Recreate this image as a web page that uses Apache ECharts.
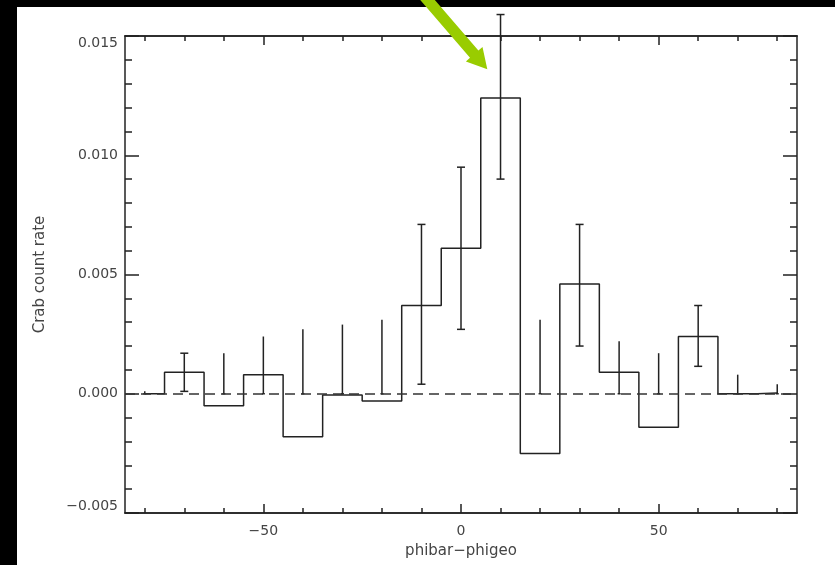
<!DOCTYPE html>
<html>
<head>
<meta charset="utf-8">
<script src="https://cdn.jsdelivr.net/npm/echarts@6/dist/echarts.min.js"></script>
<style>
  html, body { margin: 0; padding: 0; background: #000; }
  #chart { width: 835px; height: 565px; }
</style>
</head>
<body>
<div id="chart"></div>
<script>
// bin centres (phibar - phigeo) and measured rates
var binCenters = [-80, -70, -60, -50, -40, -30, -20, -10, 0, 10, 20, 30, 40, 50, 60, 70, 80];
var rateValues = [0.0000, 0.0009, -0.0005, 0.0008, -0.0018, -0.00005, -0.0003, 0.0037, 0.0061, 0.0124,
  -0.0025, 0.0046, 0.0009, -0.0014, 0.0024, 0.0000, 0.00003];
// error bar ends
var errLow = [0, 0.0001, 0, 0, 0, 0, 0, 0.0004, 0.0027, 0.0090, 0, 0.0020, 0, 0, 0.00115, 0, 0];
var errHigh = [0.0001, 0.0017, 0.0017, 0.0024, 0.0027, 0.0029, 0.0031, 0.0071, 0.0095, 0.0159,
  0.0031, 0.0071, 0.0022, 0.0017, 0.0037, 0.0008, 0.0004];
var errCapped = [0, 1, 0, 0, 0, 0, 0, 1, 1, 1, 0, 1, 0, 0, 1, 0, 0];

var xMajorTicks = [-50, 0, 50];
var xMinorTicks = [-80, -70, -60, -50, -40, -30, -20, -10, 0, 10, 20, 30, 40, 50, 60, 70, 80];

var histData = binCenters.map(function (c, i) { return [c, rateValues[i]]; });
var errData = binCenters.map(function (c, i) { return [c, errLow[i], errHigh[i], errCapped[i]]; });

var ink = '#222';
var font = 'DejaVu Sans';

function minus(s) { return s.replace('-', '\u2212'); }

function xAxisDef(pos, ticks, len, labels) {
  return {
    type: 'value', position: pos, min: -85, max: 85,
    axisLine: { show: true, onZero: false, lineStyle: { color: ink, width: 1.5 } },
    axisTick: { show: true, inside: true, length: len, customValues: ticks, lineStyle: { color: ink, width: 1.5 } },
    axisLabel: labels ? {
      show: true, customValues: ticks, margin: 11, color: '#444', fontFamily: font, fontSize: 14,
      formatter: function (v) { return minus(String(v)); }
    } : { show: false },
    splitLine: { show: false }
  };
}

function yAxisDef(pos, labels) {
  return {
    type: 'value', position: pos, min: -0.005, max: 0.015, interval: 0.005,
    axisLine: { show: true, onZero: false, lineStyle: { color: ink, width: 1.5 } },
    axisTick: { show: true, inside: true, length: 14, lineStyle: { color: ink, width: 1.5 } },
    minorTick: { show: true, splitNumber: 5, length: 7, lineStyle: { color: ink, width: 1.5 } },
    axisLabel: labels ? {
      show: true, margin: 7, color: '#444', fontFamily: font, fontSize: 14,
      verticalAlignMinLabel: 'bottom',
      verticalAlignMaxLabel: 'top',
      formatter: function (v) {
        if (Math.abs(v) < 1e-9) return '0.000';
        return minus(v.toFixed(3));
      }
    } : { show: false },
    splitLine: { show: false }
  };
}

var xBottom = xAxisDef('bottom', xMajorTicks, 9, true);
xBottom.name = 'phibar\u2212phigeo';
xBottom.nameLocation = 'middle';
xBottom.nameGap = 31;
xBottom.nameTextStyle = { color: '#444', fontFamily: font, fontSize: 15 };

var yLeft = yAxisDef('left', true);
yLeft.name = 'Crab count rate';
yLeft.nameLocation = 'middle';
yLeft.nameGap = 77;
yLeft.nameTextStyle = { color: '#444', fontFamily: font, fontSize: 15 };

// green arrow pointing at the peak (pixel polygon, annotation only)
var arrowPts = [[425.2, -11.2], [478.4, 50.6], [482.5, 47.0], [487.3, 69.3], [465.9, 61.4], [470.0, 57.8], [416.8, -4.0]];

var option = {
  backgroundColor: '#fff',
  animation: false,
  grid: { left: 125, top: 36, right: 38, bottom: 52 },
  xAxis: [
    xBottom,
    xAxisDef('bottom', xMinorTicks, 5, false),
    xAxisDef('top', xMajorTicks, 9, false),
    xAxisDef('top', xMinorTicks, 5, false)
  ],
  yAxis: [yLeft, yAxisDef('right', false)],
  graphic: [
    { type: 'rect', shape: { x: 0, y: 0, width: 835, height: 7 }, style: { fill: '#000' }, z: 100 },
    { type: 'rect', shape: { x: 0, y: 0, width: 17, height: 565 }, style: { fill: '#000' }, z: 100 },
    { type: 'polygon', shape: { points: arrowPts }, style: { fill: '#99cc00' }, z: 110 }
  ],
  series: [
    {
      type: 'line',
      xAxisIndex: 0, yAxisIndex: 0,
      step: 'middle',
      data: histData,
      showSymbol: false,
      symbol: 'none',
      lineStyle: { color: ink, width: 1.5 },
      markLine: {
        silent: true,
        symbol: 'none',
        label: { show: false },
        lineStyle: { color: '#333', width: 1.5, type: [10, 6] },
        data: [{ yAxis: 0 }]
      }
    },
    {
      type: 'custom',
      xAxisIndex: 0, yAxisIndex: 0,
      clip: false,
      data: errData,
      encode: { x: 0, y: [1, 2] },
      renderItem: function (params, api) {
        var x = api.value(0);
        var lo = api.coord([x, api.value(1)]);
        var hi = api.coord([x, api.value(2)]);
        var capped = api.value(3);
        var st = { stroke: ink, lineWidth: 1.5 };
        var w = capped ? 4 : 1.5;
        var kids = [
          { type: 'line', shape: { x1: lo[0], y1: lo[1], x2: hi[0], y2: hi[1] }, style: st },
          { type: 'line', shape: { x1: lo[0] - w, y1: lo[1], x2: lo[0] + w, y2: lo[1] }, style: st }
        ];
        if (capped) {
          kids.push({ type: 'line', shape: { x1: hi[0] - w, y1: hi[1], x2: hi[0] + w, y2: hi[1] }, style: st });
        }
        return { type: 'group', children: kids };
      }
    }
  ]
};

var myChart = echarts.init(document.getElementById('chart'));
myChart.setOption(option);
</script>
</body>
</html>
